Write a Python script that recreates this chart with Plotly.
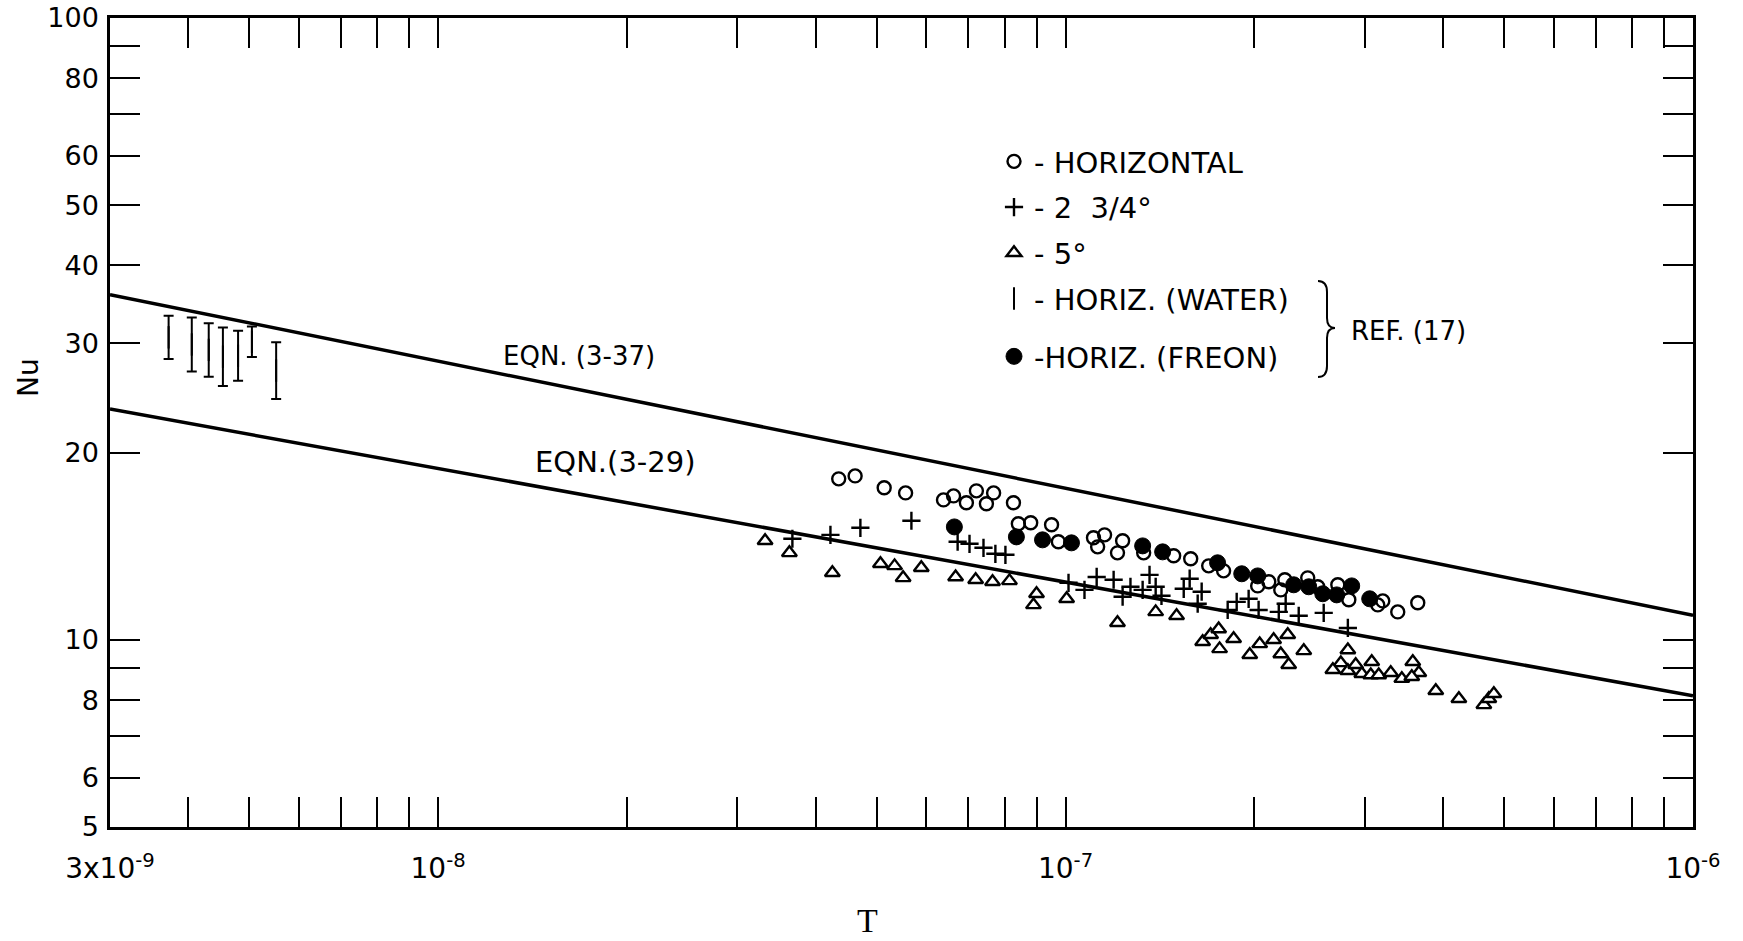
import math
import plotly.graph_objects as go

# ---------------- data ----------------
horiz_T = [4.35e-8, 4.62e-8, 5.14e-8, 5.56e-8, 6.39e-8, 6.63e-8, 6.95e-8, 7.21e-8, 7.48e-8, 7.68e-8,
           8.26e-8, 8.41e-8, 8.80e-8, 9.50e-8, 9.74e-8, 1.108e-7, 1.125e-7, 1.154e-7, 1.210e-7, 1.233e-7,
           1.332e-7, 1.487e-7, 1.583e-7, 1.691e-7, 1.786e-7, 2.024e-7, 2.108e-7, 2.203e-7, 2.236e-7, 2.432e-7,
           2.523e-7, 2.716e-7, 2.828e-7, 3.145e-7, 3.203e-7, 3.384e-7, 3.642e-7]
horiz_Nu = [18.15, 18.35, 17.56, 17.23, 16.79, 17.04, 16.61, 17.36, 16.55, 17.23,
            16.61, 15.37, 15.43, 15.31, 14.38, 14.59, 14.11, 14.75, 13.80, 14.43,
            13.80, 13.65, 13.50, 13.15, 12.91, 12.21, 12.40, 12.03, 12.49, 12.58,
            12.17, 12.26, 11.60, 11.38, 11.55, 11.09, 11.47]

freon_T = [6.65e-8, 8.35e-8, 9.19e-8, 1.022e-7, 1.327e-7, 1.428e-7, 1.747e-7, 1.909e-7, 2.024e-7, 2.310e-7,
           2.441e-7, 2.570e-7, 2.705e-7, 2.858e-7, 3.053e-7]
freon_Nu = [15.19, 14.64, 14.48, 14.32, 14.16, 13.85, 13.30, 12.77, 12.67, 12.26,
            12.17, 11.86, 11.81, 12.21, 11.64]

plus_T = [3.67e-8, 4.22e-8, 4.71e-8, 5.68e-8, 6.73e-8, 7.03e-8, 7.40e-8, 7.73e-8, 8.02e-8, 1.011e-7,
          1.072e-7, 1.121e-7, 1.193e-7, 1.233e-7, 1.269e-7, 1.327e-7, 1.361e-7, 1.392e-7, 1.422e-7, 1.543e-7,
          1.577e-7, 1.648e-7, 1.624e-7, 1.813e-7, 1.874e-7, 1.958e-7, 2.031e-7, 2.187e-7, 2.243e-7, 2.353e-7,
          2.579e-7, 2.818e-7]
plus_Nu = [14.54, 14.75, 15.14, 15.54, 14.38, 14.27, 14.06, 13.75, 13.70, 12.35,
           12.03, 12.62, 12.49, 11.73, 12.17, 12.03, 12.72, 12.17, 11.77, 12.08,
           12.54, 11.95, 11.43, 11.17, 11.51, 11.64, 11.17, 11.09, 11.43, 10.93,
           11.05, 10.45]

tri_T = [3.32e-8, 3.63e-8, 4.25e-8, 5.07e-8, 5.34e-8, 5.51e-8, 5.89e-8, 6.68e-8, 7.19e-8, 7.65e-8,
         8.14e-8, 8.99e-8, 8.89e-8, 1.004e-7, 1.210e-7, 1.392e-7, 1.503e-7, 1.654e-7, 1.703e-7, 1.754e-7,
         1.853e-7, 1.760e-7, 1.966e-7, 2.039e-7, 2.146e-7, 2.203e-7, 2.268e-7, 2.260e-7, 2.397e-7, 2.818e-7,
         2.746e-7, 2.667e-7, 2.818e-7, 2.900e-7, 2.966e-7, 3.076e-7, 3.065e-7, 3.156e-7, 3.298e-7, 3.435e-7,
         3.576e-7, 3.656e-7, 3.563e-7, 3.891e-7, 4.235e-7, 4.642e-7, 4.727e-7, 4.815e-7]
tri_Nu = [14.43, 13.80, 12.82, 13.25, 13.15, 12.58, 13.06, 12.62, 12.49, 12.40,
          12.44, 11.86, 11.38, 11.64, 10.65, 11.09, 10.93, 9.93, 10.19, 10.41,
          10.04, 9.67, 9.46, 9.85, 10.00, 9.49, 9.12, 10.19, 9.60, 9.63,
          9.18, 8.95, 8.92, 9.12, 8.82, 9.22, 8.78, 8.78, 8.85, 8.66,
          9.22, 8.85, 8.72, 8.28, 8.04, 7.86, 8.04, 8.19]

water_T = [3.72e-9, 4.05e-9, 4.31e-9, 4.54e-9, 4.80e-9, 5.05e-9, 5.52e-9]
water_lo = [28.3, 27.0, 26.5, 25.6, 26.1, 28.5, 24.4]
water_hi = [33.2, 33.0, 32.3, 31.8, 31.4, 31.9, 30.1]

eqn_T = [3e-9, 1e-6]
eqn337_Nu = [35.9, 10.95]
eqn329_Nu = [23.5, 8.13]

x_major = [3e-9, 1e-8, 1e-7, 1e-6]
x_major_text = ["3x10<sup>-9</sup>", "10<sup>-8</sup>", "10<sup>-7</sup>", "10<sup>-6</sup>"]
x_minor = [4e-9, 5e-9, 6e-9, 7e-9, 8e-9, 9e-9,
           2e-8, 3e-8, 4e-8, 5e-8, 6e-8, 7e-8, 8e-8, 9e-8,
           2e-7, 3e-7, 4e-7, 5e-7, 6e-7, 7e-7, 8e-7, 9e-7]
y_major = [5, 6, 8, 10, 20, 30, 40, 50, 60, 80, 100]
y_major_text = ["5", "6", "8", "10", "20", "30", "40", "50", "60", "80", "100"]
y_minor = [7, 9, 70, 90]

# ---------------- layout geometry ----------------
W, H = 1743, 941
L, R, T, B = 110, 1693, 18, 827


def px(xp):
    return (xp - L) / (R - L)


def py(yp):
    return (B - yp) / (B - T)


FONT = "DejaVu Sans"
BLACK = "black"

fig = go.Figure()

# correlation lines
fig.add_trace(go.Scatter(x=eqn_T, y=eqn337_Nu, mode="lines",
                         line=dict(color=BLACK, width=3.5), showlegend=False, hoverinfo="skip"))
fig.add_trace(go.Scatter(x=eqn_T, y=eqn329_Nu, mode="lines",
                         line=dict(color=BLACK, width=3.5), showlegend=False, hoverinfo="skip"))

# 5 degrees (triangles)
fig.add_trace(go.Scatter(x=tri_T, y=tri_Nu, mode="markers", name="- 5°", legendrank=3, legendgroup="c",
                         marker=dict(symbol="triangle-up", size=13, color="white",
                                     line=dict(color=BLACK, width=2.4))))
# 2 3/4 degrees (plus)
fig.add_trace(go.Scatter(x=plus_T, y=plus_Nu, mode="markers", name="- 2\u00a0\u00a03/4°", legendrank=2, legendgroup="b",
                         marker=dict(symbol="cross-thin-open", size=13, color=BLACK,
                                     line=dict(color=BLACK, width=2.4))))
# horizontal (open circles)
fig.add_trace(go.Scatter(x=horiz_T, y=horiz_Nu, mode="markers", name="- HORIZONTAL", legendrank=1, legendgroup="a",
                         marker=dict(symbol="circle-open", size=13, color=BLACK,
                                     line=dict(color=BLACK, width=2.4))))
# freon (filled circles) -- separate legend box so its row sits lower like the original
fig.add_trace(go.Scatter(x=freon_T, y=freon_Nu, mode="markers", name="-HORIZ. (FREON)", legend="legend2",
                         marker=dict(symbol="circle", size=16, color=BLACK,
                                     line=dict(color=BLACK, width=1))))
# water (range bars)
water_mid = [math.sqrt(a * b) for a, b in zip(water_lo, water_hi)]
fig.add_trace(go.Scatter(x=water_T, y=water_mid, mode="markers", name="- HORIZ. (WATER)", legendrank=4, legendgroup="d",
                         marker=dict(symbol="line-ns", size=16, color=BLACK, line=dict(color=BLACK, width=2)),
                         error_y=dict(type="data", symmetric=False,
                                      array=[h - m for h, m in zip(water_hi, water_mid)],
                                      arrayminus=[m - l for m, l in zip(water_mid, water_lo)],
                                      color=BLACK, thickness=2, width=5)))

axis_common = dict(showline=True, linecolor=BLACK, linewidth=2.5, mirror="ticks",
                   ticks="inside", ticklen=30, tickwidth=2, tickcolor=BLACK,
                   showgrid=False, zeroline=False, automargin=False,
                   tickfont=dict(family=FONT, size=27, color=BLACK))

fig.update_xaxes(type="log", range=[math.log10(3e-9), -6], tickmode="array",
                 tickvals=x_major, ticktext=x_major_text, ticklabelstandoff=15,
                 tickfont=dict(family=FONT, size=28, color=BLACK),
                 minor=dict(tickmode="array", tickvals=x_minor, ticks="inside", ticklen=30,
                            tickwidth=2, tickcolor=BLACK, showgrid=False),
                 **{k: v for k, v in axis_common.items() if k != "tickfont"})
fig.update_yaxes(type="log", range=[math.log10(5), 2], tickmode="array",
                 tickvals=y_major, ticktext=y_major_text, ticklabelstandoff=3,
                 minor=dict(tickmode="array", tickvals=y_minor, ticks="inside", ticklen=30,
                            tickwidth=2, tickcolor=BLACK, showgrid=False),
                 **axis_common)

ann = [
    dict(text="EQN. (3-37)", x=px(579), y=py(356), font=dict(family=FONT, size=26, color=BLACK)),
    dict(text="EQN.(3-29)", x=px(615), y=py(462), font=dict(family=FONT, size=29, color=BLACK)),
    dict(text="REF. (17)", x=px(1408), y=py(331), font=dict(family=FONT, size=26, color=BLACK)),
    dict(text="Nu", x=px(28), y=py(378), textangle=-90, font=dict(family=FONT, size=28, color=BLACK)),
]
for a in ann:
    a.update(xref="paper", yref="paper", showarrow=False, xanchor="center", yanchor="middle")
ann.append(dict(text="T", xref="paper", yref="paper", x=px(867), y=py(941), showarrow=False,
                xanchor="center", yanchor="bottom",
                font=dict(family="Liberation Serif", size=34, color=BLACK)))

# brace joining the two REF. (17) legend entries
brace_px = [(1318, 281), (1327, 281), (1327, 292), (1327, 318), (1327, 328), (1335, 328),
            (1327, 328), (1327, 338), (1327, 366), (1327, 377), (1318, 377)]
bp = [(px(a), py(b)) for a, b in brace_px]
path = ("M {0[0]},{0[1]} Q {1[0]},{1[1]} {2[0]},{2[1]} L {3[0]},{3[1]} Q {4[0]},{4[1]} {5[0]},{5[1]} "
        "Q {6[0]},{6[1]} {7[0]},{7[1]} L {8[0]},{8[1]} Q {9[0]},{9[1]} {10[0]},{10[1]}").format(*bp)

legend_font = dict(family=FONT, size=29, color=BLACK)
fig.update_layout(
    template="none",
    width=W, height=H,
    margin=dict(l=L, r=W - R, t=T, b=H - B, pad=0, autoexpand=False),
    paper_bgcolor="white", plot_bgcolor="white",
    font=dict(family=FONT, color=BLACK),
    showlegend=True,
    legend=dict(x=px(994), y=py(136), xanchor="left", yanchor="top", font=legend_font,
                bgcolor="rgba(0,0,0,0)", borderwidth=0,
                traceorder="grouped", tracegroupgap=5, itemwidth=30),
    legend2=dict(x=px(994), y=py(331), xanchor="left", yanchor="top", font=legend_font,
                 bgcolor="rgba(0,0,0,0)", borderwidth=0, itemwidth=30),
    annotations=ann,
    shapes=[dict(type="path", path=path, xref="paper", yref="paper",
                 line=dict(color=BLACK, width=2))],
)

fig.write_html("out.html")
